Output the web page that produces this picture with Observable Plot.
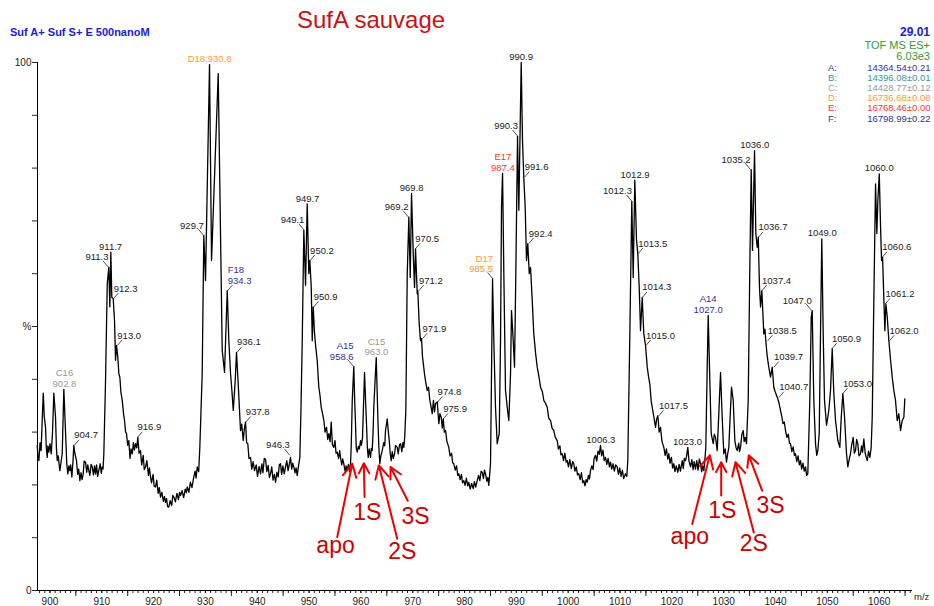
<!DOCTYPE html>
<html>
<head>
<meta charset="utf-8">
<script src="https://cdn.jsdelivr.net/npm/d3@7"></script>
<script src="https://cdn.jsdelivr.net/npm/@observablehq/plot@0.6"></script>
<style>
  html, body { margin: 0; padding: 0; background: #fff; overflow: hidden; }
  #chart { position: relative; width: 934px; height: 606px; font-family: "Liberation Sans", Arial, sans-serif; }
  #chart svg { position: absolute; left: 0; top: 0; }
  .t { position: absolute; white-space: nowrap; line-height: 1; }
</style>
</head>
<body>
<div id="chart"></div>
<script>
// ---------- DATA ----------
// spectrum: [m/z, relative intensity %]
const spectrum = [
[897.55,27.5],[897.7,25.0],[897.86,24.6],[898.1,28.0],[898.3,26.5],[898.5,32.0],[898.71,37.4],[898.9,33.0],[899.15,30.9],[899.3,27.0],[899.48,25.2],[899.6,27.4],[899.79,26.2],[900.0,27.8],[900.25,25.9],[900.5,30.0],[900.75,37.4],[901.08,32.8],[901.25,27.0],[901.41,24.6],[901.6,25.5],[901.91,22.7],[902.1,24.0],[902.37,25.9],[902.55,33.0],[902.68,38.1],[902.85,34.0],[903.07,28.4],[903.25,24.0],[903.45,22.1],[903.65,23.6],[903.84,22.7],[904.0,23.8],[904.23,21.5],[904.45,24.5],[904.61,27.5],[904.8,26.0],[905.13,24.6],[905.35,22.0],[905.55,23.0],[905.77,20.8],[906.0,22.3],[906.2,21.0],[906.42,22.1],[906.6,24.5],[906.87,24.3],[907.1,22.4],[907.3,23.8],[907.51,22.7],[907.7,21.8],[907.95,23.9],[908.16,23.4],[908.4,21.9],[908.6,23.6],[908.8,22.1],[909.0,23.8],[909.2,21.6],[909.43,22.7],[909.7,24.0],[909.9,22.2],[910.09,23.4],[910.25,23.0],[910.4,25.9],[910.73,39.8],[911.06,58.1],[911.36,61.2],[911.56,53.7],[911.75,64.1],[911.94,55.5],[912.21,55.3],[912.46,51.1],[912.66,43.6],[912.85,46.4],[913.1,44.2],[913.3,41.0],[913.49,40.4],[913.7,37.5],[913.95,36.0],[914.2,33.5],[914.39,32.2],[914.6,30.0],[914.78,29.7],[915.0,27.5],[915.22,28.4],[915.45,25.0],[915.65,26.8],[915.88,25.9],[916.1,28.0],[916.3,26.6],[916.52,27.8],[916.75,27.0],[916.96,29.0],[917.2,26.0],[917.48,26.5],[917.7,23.8],[918.0,25.6],[918.2,22.9],[918.45,23.4],[918.7,24.6],[919.0,21.8],[919.2,23.2],[919.41,21.5],[919.6,20.4],[919.9,22.0],[920.1,19.8],[920.37,19.6],[920.6,20.9],[920.9,18.4],[921.1,19.5],[921.34,17.7],[921.6,18.6],[921.9,16.9],[922.1,17.8],[922.3,16.7],[922.5,17.4],[922.7,15.9],[922.94,15.8],[923.2,17.0],[923.5,16.1],[923.7,18.0],[923.91,17.7],[924.2,16.8],[924.5,18.4],[924.8,17.2],[925.0,18.6],[925.2,18.0],[925.5,18.9],[925.8,17.6],[926.1,19.2],[926.3,18.5],[926.49,19.6],[926.8,18.6],[927.1,20.5],[927.4,19.5],[927.76,21.5],[928.0,22.6],[928.2,21.3],[928.42,23.4],[928.7,22.5],[928.92,27.1],[929.38,41.1],[929.69,67.2],[930.02,58.7],[930.79,99.6],[931.18,62.5],[932.47,97.9],[932.82,73.9],[933.24,45.5],[933.69,41.3],[934.21,56.8],[934.52,47.3],[934.85,41.0],[935.1,38.0],[935.37,34.1],[935.75,39.8],[936.0,45.1],[936.39,37.9],[936.77,30.3],[937.0,31.5],[937.3,28.4],[937.5,30.5],[937.74,31.9],[937.95,28.0],[938.18,27.8],[938.4,25.0],[938.7,25.2],[938.95,23.0],[939.2,24.4],[939.48,22.7],[939.8,23.8],[940.05,21.6],[940.35,23.5],[940.63,22.1],[940.9,24.0],[941.1,22.3],[941.35,25.0],[941.6,24.9],[941.85,22.5],[942.1,23.7],[942.35,21.4],[942.56,22.1],[942.8,23.4],[943.05,20.9],[943.3,22.0],[943.53,20.5],[943.8,22.4],[944.05,21.5],[944.25,23.8],[944.49,24.0],[944.7,22.0],[944.95,23.6],[945.2,22.1],[945.46,23.4],[945.7,24.6],[945.95,22.7],[946.2,24.0],[946.42,25.2],[946.65,23.0],[946.85,24.1],[947.06,23.4],[947.3,22.3],[947.5,23.2],[947.71,21.8],[947.95,23.5],[948.22,25.2],[948.45,35.0],[948.68,47.3],[948.99,68.2],[949.32,57.8],[949.64,73.2],[949.95,60.0],[950.15,62.5],[950.42,57.4],[950.61,47.3],[950.8,53.7],[951.05,48.7],[951.3,46.0],[951.57,43.6],[951.88,38.5],[952.1,37.0],[952.34,34.7],[952.6,33.5],[952.85,32.2],[953.1,30.0],[953.37,30.9],[953.6,28.6],[953.81,29.7],[954.05,28.2],[954.27,31.9],[954.5,27.6],[954.78,27.1],[955.0,28.4],[955.2,26.0],[955.43,26.2],[955.7,25.0],[955.9,26.5],[956.07,25.2],[956.3,23.8],[956.5,24.9],[956.7,24.0],[956.95,22.6],[957.15,23.6],[957.36,22.7],[957.6,23.9],[957.8,22.5],[958.0,24.0],[958.15,28.0],[958.33,36.0],[958.63,42.4],[958.8,36.0],[958.96,31.6],[959.1,27.0],[959.29,26.2],[959.5,27.3],[959.7,26.8],[959.93,28.4],[960.1,27.5],[960.31,29.0],[960.5,35.0],[960.7,41.3],[960.9,36.0],[961.08,31.6],[961.25,27.0],[961.41,25.2],[961.6,26.8],[961.86,25.2],[962.0,26.9],[962.18,26.5],[962.35,30.0],[962.49,34.7],[962.75,40.0],[962.96,44.1],[963.1,39.0],[963.27,32.8],[963.45,27.5],[963.65,24.0],[963.85,25.5],[964.12,26.5],[964.4,28.0],[964.6,27.4],[964.75,30.3],[965.08,32.5],[965.3,30.0],[965.47,28.4],[965.65,26.0],[965.85,24.6],[966.05,26.3],[966.25,25.0],[966.49,25.9],[966.7,27.5],[967.01,27.1],[967.2,25.9],[967.45,27.6],[967.65,27.8],[967.9,26.3],[968.1,28.0],[968.28,27.1],[968.45,29.0],[968.67,34.1],[968.94,60.0],[969.25,70.7],[969.52,59.3],[969.77,75.2],[970.1,63.8],[970.35,57.4],[970.54,64.7],[970.87,56.2],[970.98,56.8],[971.25,50.5],[971.5,47.3],[971.7,47.7],[971.89,44.2],[972.1,42.5],[972.27,41.0],[972.5,39.5],[972.8,37.9],[973.05,38.5],[973.3,36.0],[973.5,35.0],[973.76,33.5],[974.0,36.0],[974.2,33.8],[974.4,35.4],[974.73,35.7],[975.04,31.6],[975.25,33.5],[975.5,32.8],[975.7,30.8],[975.89,32.5],[976.1,30.0],[976.33,30.3],[976.6,28.2],[976.96,27.1],[977.2,25.5],[977.5,26.0],[977.7,24.2],[977.93,24.0],[978.2,22.8],[978.45,23.6],[978.7,21.8],[978.89,22.1],[979.15,21.0],[979.4,22.0],[979.6,20.4],[979.86,20.8],[980.1,19.9],[980.35,21.3],[980.6,19.8],[980.82,20.5],[981.1,19.2],[981.35,20.3],[981.67,19.3],[981.9,20.6],[982.15,19.6],[982.44,20.8],[982.7,21.8],[982.95,20.8],[983.2,22.6],[983.41,22.4],[983.65,21.2],[983.85,22.8],[984.05,22.1],[984.3,20.7],[984.5,21.4],[984.68,19.9],[985.01,24.0],[985.2,41.0],[985.4,59.0],[985.65,47.3],[985.97,34.7],[986.3,27.8],[986.69,29.7],[986.94,47.3],[987.13,72.6],[987.33,79.0],[987.58,60.0],[987.9,37.9],[988.23,34.7],[988.54,32.2],[988.87,41.0],[989.06,53.0],[989.39,47.3],[989.64,42.3],[989.89,60.0],[990.22,86.0],[990.47,72.0],[990.93,100],[991.18,85.2],[991.43,78.3],[991.7,72.6],[991.95,62.5],[992.2,65.7],[992.48,60.0],[992.73,61.2],[993.06,54.9],[993.36,48.6],[993.7,45.0],[994.02,42.3],[994.3,40.8],[994.66,38.5],[995.0,37.7],[995.29,36.0],[995.6,35.5],[995.95,34.7],[996.25,32.6],[996.59,32.2],[996.9,30.7],[997.22,30.3],[997.5,29.0],[997.88,28.4],[998.1,26.8],[998.4,27.4],[998.6,25.7],[998.84,25.9],[999.1,24.6],[999.35,26.0],[999.6,24.3],[999.81,24.6],[1000.05,23.4],[1000.3,24.8],[1000.6,23.1],[1000.85,24.4],[1001.08,24.0],[1001.3,22.6],[1001.55,23.4],[1001.8,21.9],[1002.05,22.1],[1002.3,21.0],[1002.55,22.3],[1002.8,20.4],[1003.01,20.8],[1003.25,19.8],[1003.45,21.0],[1003.67,20.5],[1003.9,21.8],[1004.1,21.1],[1004.3,22.7],[1004.55,23.6],[1004.8,22.9],[1005.0,25.0],[1005.27,25.6],[1005.5,24.5],[1005.75,26.4],[1006.0,25.8],[1006.23,27.5],[1006.45,25.5],[1006.7,26.6],[1006.95,24.6],[1007.2,25.2],[1007.45,23.9],[1007.7,25.0],[1007.95,23.4],[1008.16,24.3],[1008.4,23.0],[1008.65,24.0],[1008.9,22.6],[1009.15,23.8],[1009.45,23.4],[1009.7,22.0],[1009.95,23.2],[1010.2,21.6],[1010.45,22.8],[1010.7,21.2],[1011.06,22.1],[1011.3,21.6],[1011.5,24.6],[1011.89,48.6],[1012.27,73.7],[1012.54,59.3],[1012.85,77.7],[1013.18,66.3],[1013.43,63.8],[1013.7,57.4],[1013.95,49.2],[1014.28,55.5],[1014.59,48.6],[1014.92,46.4],[1015.25,42.3],[1015.5,40.5],[1015.75,39.1],[1016.0,36.0],[1016.21,34.7],[1016.5,33.0],[1016.85,30.9],[1017.05,32.4],[1017.29,33.1],[1017.55,30.0],[1017.81,30.9],[1018.1,28.2],[1018.45,27.1],[1018.7,25.6],[1018.95,26.8],[1019.2,24.9],[1019.41,25.9],[1019.65,24.1],[1019.9,25.2],[1020.15,23.2],[1020.38,24.0],[1020.6,22.5],[1020.85,23.6],[1021.15,22.4],[1021.4,23.9],[1021.65,22.6],[1022.0,24.6],[1022.2,23.1],[1022.4,25.0],[1022.63,24.6],[1022.85,25.5],[1023.08,27.1],[1023.3,24.5],[1023.6,23.4],[1023.85,24.8],[1024.1,22.9],[1024.3,24.4],[1024.56,23.0],[1024.8,24.6],[1025.05,22.8],[1025.3,24.9],[1025.53,24.0],[1025.75,22.5],[1025.95,23.6],[1026.17,22.7],[1026.35,24.5],[1026.55,27.1],[1026.82,42.3],[1027.01,52.1],[1027.26,42.3],[1027.59,29.7],[1027.98,27.8],[1028.2,29.6],[1028.42,29.0],[1028.75,26.5],[1029.06,33.5],[1029.39,41.3],[1029.71,32.8],[1030.02,25.9],[1030.3,26.8],[1030.54,24.3],[1030.75,25.8],[1030.99,27.1],[1031.25,33.0],[1031.51,38.5],[1031.84,36.0],[1032.15,28.4],[1032.4,27.0],[1032.61,26.5],[1032.9,27.9],[1033.05,26.3],[1033.25,27.1],[1033.5,29.5],[1033.77,30.3],[1033.95,28.2],[1034.16,29.0],[1034.4,27.8],[1034.73,36.0],[1035.04,61.2],[1035.31,79.7],[1035.56,64.4],[1035.95,83.3],[1036.2,67.6],[1036.47,65.0],[1036.67,66.9],[1036.91,57.4],[1037.11,53.7],[1037.36,56.8],[1037.74,48.6],[1037.95,49.5],[1038.13,47.3],[1038.35,44.8],[1038.51,43.6],[1038.75,42.0],[1039.03,40.4],[1039.36,42.3],[1039.67,38.5],[1039.95,37.6],[1040.33,36.6],[1040.6,35.8],[1040.96,34.1],[1041.2,33.0],[1041.45,31.6],[1041.7,31.9],[1041.93,30.3],[1042.2,29.0],[1042.45,29.6],[1042.7,27.9],[1042.89,27.8],[1043.15,26.3],[1043.4,27.2],[1043.65,25.6],[1043.86,25.9],[1044.1,24.4],[1044.35,25.5],[1044.6,23.8],[1044.82,24.6],[1045.05,23.0],[1045.3,24.1],[1045.55,22.6],[1045.79,23.4],[1046.0,21.8],[1046.23,22.1],[1046.62,36.0],[1046.89,51.8],[1047.08,53.0],[1047.39,36.0],[1047.72,27.8],[1047.95,25.6],[1048.16,26.5],[1048.43,29.7],[1048.68,48.6],[1048.93,66.6],[1049.2,48.6],[1049.45,36.0],[1049.84,31.3],[1050.05,32.6],[1050.28,34.1],[1050.61,37.9],[1050.94,45.8],[1051.25,37.3],[1051.58,32.2],[1052.02,28.4],[1052.41,27.1],[1052.68,32.8],[1052.99,37.3],[1053.32,32.8],[1053.7,25.9],[1053.95,23.4],[1054.2,24.8],[1054.47,25.9],[1054.7,27.6],[1054.99,29.0],[1055.2,26.0],[1055.44,26.5],[1055.65,28.6],[1055.88,27.8],[1056.1,25.5],[1056.4,25.9],[1056.6,27.4],[1056.8,26.2],[1057.04,28.7],[1057.3,26.0],[1057.5,25.2],[1057.7,24.6],[1057.95,26.4],[1058.2,25.2],[1058.45,27.0],[1058.66,32.8],[1058.97,54.9],[1059.3,77.0],[1059.55,67.6],[1059.75,73.9],[1060.02,78.9],[1060.27,68.8],[1060.46,62.5],[1060.66,63.1],[1060.91,54.9],[1061.1,49.2],[1061.29,54.3],[1061.56,51.8],[1061.87,47.3],[1062.2,43.6],[1062.52,40.4],[1062.83,37.9],[1063.15,36.0],[1063.48,32.2],[1063.79,33.5],[1064.12,30.3],[1064.45,32.2],[1064.76,32.8],[1064.95,36.3]
];

// peak labels: [text, m/z, intensity %, label side, series]
const peakLabels = [
["C16\n902.8",902.8,38.1,"up","C"],["904.7",904.7,27.5,"right",""],["911.3",911.3,61.2,"left",""],["911.7",911.7,64.1,"up",""],
["912.3",912.3,55.3,"right",""],["913.0",913.0,46.4,"right",""],["916.9",916.9,29.0,"right",""],["929.7",929.7,67.2,"left",""],
["D18;930.8",930.8,99.6,"up","D"],["F18\n934.3",934.3,56.8,"right","F"],["936.1",936.1,45.1,"right",""],["937.8",937.8,31.9,"right",""],
["946.3",946.3,25.6,"left",""],["949.1",949.1,68.2,"left",""],["949.7",949.7,73.2,"up",""],["950.2",950.2,62.5,"right",""],
["950.9",950.9,53.7,"right",""],["A15\n958.6",958.6,42.4,"left","A"],["C15\n963.0",963.0,44.1,"up","C"],["969.2",969.2,70.7,"left",""],
["969.8",969.8,75.2,"up",""],["970.5",970.5,64.7,"right",""],["971.2",971.2,56.8,"right",""],["971.9",971.9,47.7,"right",""],
["974.8",974.8,35.7,"right",""],["975.9",975.9,32.5,"right",""],["D17\n985.5",985.5,59.0,"left","D"],["E17\n987.4",987.4,79.0,"up","E"],
["990.3",990.3,86.0,"left",""],["990.9",990.9,100,"up",""],["991.6",991.6,78.3,"right",""],["992.4",992.4,65.7,"right",""],
["1006.3",1006.3,27.5,"up",""],["1012.3",1012.3,73.7,"left",""],["1012.9",1012.9,77.7,"up",""],["1013.5",1013.5,63.8,"right",""],
["1014.3",1014.3,55.5,"right",""],["1015.0",1015.0,46.4,"right",""],["1017.5",1017.5,33.1,"right",""],["1023.0",1023.0,27.1,"up",""],
["A14\n1027.0",1027.0,52.1,"up","A"],["1035.2",1035.2,79.7,"left",""],["1036.0",1036.0,83.3,"up",""],["1036.7",1036.7,66.9,"right",""],
["1037.4",1037.4,56.8,"right",""],["1038.5",1038.5,47.3,"right",""],["1039.7",1039.7,42.3,"right",""],["1040.7",1040.7,36.6,"right",""],
["1047.0",1047.0,53.0,"left",""],["1049.0",1049.0,66.6,"up",""],["1050.9",1050.9,45.8,"right",""],["1053.0",1053.0,37.3,"right",""],
["1060.0",1060.0,78.9,"up",""],["1060.6",1060.6,63.1,"right",""],["1061.2",1061.2,54.3,"right",""],["1062.0",1062.0,47.3,"right",""]
];

// red annotations
const annoText  = ["apo","1S","2S","3S","apo","1S","2S","3S"];
const annoMz    = [955.11,961.22,967.97,970.54,1023.46,1029.71,1035.81,1039.03];
const annoPct   = [8.5,14.8,7.3,14.0,10.2,15.2,8.8,16.1];
const arrowFrom = [[955.43,10.1],[960.70,17.7],[967.01,9.8],[969.05,17.0],[1023.93,12.6],[1029.52,18.0],[1035.81,11.0],[1037.42,18.9]];
const arrowTo   = [[958.33,24.0],[960.57,24.1],[963.46,23.7],[965.72,23.4],[1027.32,25.6],[1029.52,24.3],[1032.28,24.3],[1034.84,25.6]];

// axes
const xLabelTicks = d3.range(900, 1061, 10);
const xMidTicks = d3.range(905, 1066, 10);
const xMinorTicks = d3.range(898, 1067, 1);
const yTicks = d3.range(0, 101, 10);
const yTickLabels = {0: "0", 50: "%", 100: "100"};
const xDomain = [897.6, 1066.43];

// header / legend texts
const title = "Suf A+ Suf S+ E 500nanoM";
const sampleName = "SufA sauvage";
const scanInfo = ["29.01", "TOF MS ES+", "6.03e3"];
const legendSeries = ["A", "B", "C", "D", "E", "F"];
const legendValues = ["14364.54±0.21","14396.08±0.01","14428.77±0.12","16736.68±0.08","16768.46±0.00","16798.99±0.22"];

// ---------- STYLES ----------
const seriesColor = {A: "#333399", B: "#339999", C: "#999999", D: "#ff9933", E: "#ff3333", F: "#333399", "": "#222222"};
const redText = "#cc0000";
const redArrow = "#ee0000";

// ---------- CHART ----------
const peaks = peakLabels.map(([text, mz, pct, side, series]) => ({text, mz, pct, side, series}));
const sideMarks = ["left", "right", "up"].map(side => {
  const data = peaks.filter(p => p.side === side);
  return Plot.text(data, {
    x: "mz", y: "pct", text: "text",
    fill: d => seriesColor[d.series],
    textAnchor: side === "left" ? "end" : side === "right" ? "start" : "middle",
    lineAnchor: "bottom", lineHeight: 1.1,
    dy: side === "up" ? -2.5 : -7,
    fontSize: 9.5
  });
});
const leaders = peaks.filter(p => p.side !== "up");
const anno = annoText.map((t, i) => ({t, mz: annoMz[i], pct: annoPct[i], x1: arrowFrom[i][0], y1: arrowFrom[i][1], x2: arrowTo[i][0], y2: arrowTo[i][1]}));

const chart = Plot.plot({
  width: 934,
  height: 606,
  marginLeft: 37,
  marginRight: 22,
  marginTop: 62,
  marginBottom: 16,
  x: {domain: xDomain},
  y: {domain: [0, 100]},
  style: {fontFamily: "'Liberation Sans', Arial, sans-serif", fontSize: "10px", background: "transparent", overflow: "visible", color: "#222"},
  marks: [
    Plot.axisX(xMinorTicks, {tickSize: 3, tickFormat: () => "", label: null}),
    Plot.axisX(xMidTicks, {tickSize: 6, tickFormat: () => "", label: null}),
    Plot.axisX(xLabelTicks, {tickSize: 3, tickPadding: 4, tickFormat: d => String(d), label: null, fontSize: 10, fontFamily: "'Liberation Sans Narrow', 'Liberation Sans', Arial, sans-serif"}),
    Plot.axisY(yTicks, {anchor: "left", tickSize: 5, tickPadding: 1, tickFormat: d => yTickLabels[d] ?? "", label: null, fontSize: 10}),
    Plot.ruleX([xDomain[0]], {y1: 0, y2: 100, stroke: "#000"}),
    Plot.ruleY([0], {x1: xDomain[0], x2: xDomain[1], stroke: "#000"}),
    Plot.line(spectrum, {x: d => d[0], y: d => d[1], stroke: "#000", strokeWidth: 1.3}),
    Plot.link(leaders, {
      x1: "mz", y1: "pct",
      x2: d => d.mz + (d.side === "left" ? -1.06 : 0.9),
      y2: d => d.pct + (d.side === "left" ? 1.23 : 1.04),
      stroke: "#222", strokeWidth: 0.8
    }),
    ...sideMarks,
    Plot.arrow(anno, {x1: "x1", y1: "y1", x2: "x2", y2: "y2", stroke: redArrow, strokeWidth: 2, headLength: 11, headAngle: 55}),
    Plot.text(anno, {x: "mz", y: "pct", text: "t", fill: redText, fontSize: 23, lineAnchor: "middle"})
  ]
});

const box = document.getElementById("chart");
box.appendChild(chart);

function addText(txt, opts) {
  const {x, right, baseline, size, weight = "normal", color} = opts;
  const d = document.createElement("div");
  d.className = "t";
  d.textContent = txt;
  d.style.fontSize = size + "px";
  d.style.fontWeight = weight;
  d.style.color = color;
  d.style.top = (baseline - 0.8465 * size) + "px";
  if (right != null) d.style.right = (934 - right) + "px"; else d.style.left = x + "px";
  box.appendChild(d);
}

addText(title, {x: 10, baseline: 36, size: 11, weight: "bold", color: "#1a1ae6"});
addText(sampleName, {x: 297, baseline: 28, size: 24, color: "#cc1111"});
addText(scanInfo[0], {right: 930, baseline: 36, size: 12, weight: "bold", color: "#1a1ae6"});
addText(scanInfo[1], {right: 930, baseline: 49.3, size: 11, color: "#339933"});
addText(scanInfo[2], {right: 930, baseline: 60, size: 11, color: "#339933"});
legendSeries.forEach((s, i) => {
  const b = 70.7 + i * 10.2;
  addText(s + ":", {x: 828, baseline: b, size: 9.5, color: seriesColor[s]});
  addText(legendValues[i], {right: 930.5, baseline: b, size: 9.5, color: seriesColor[s]});
});
addText("m/z", {x: 914, baseline: 600, size: 9.5, color: "#222"});
</script>
</body>
</html>
